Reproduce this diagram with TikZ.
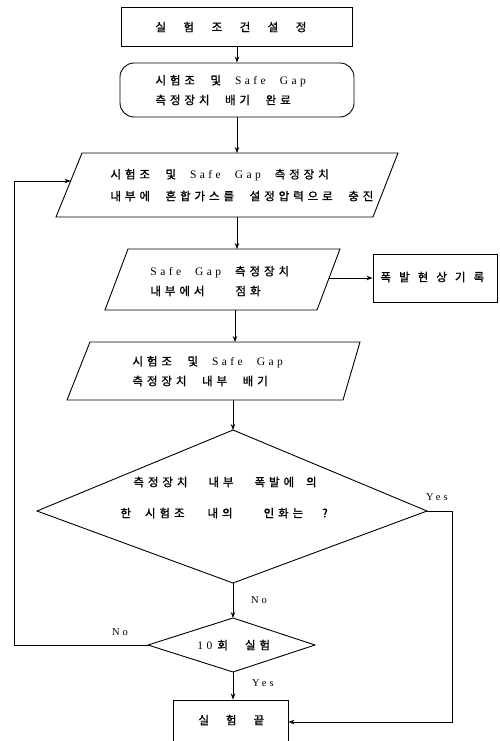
\documentclass[tikz,border=0pt]{standalone}
\usepackage{fontspec}
\setmainfont{Liberation Serif}[LetterSpace=30, WordSpace=2.2]
\newfontfamily\kr{Noto Sans CJK KR}[LetterSpace=34, WordSpace=2.4, FakeBold=1.2]
\usetikzlibrary{arrows.meta}
\newcommand{\K}[1]{{\kr #1}}
\newcommand{\gap}[1]{\hspace*{#1pt}}
\begin{document}
\begin{tikzpicture}[x=1pt,y=-1pt, line width=0.9pt,
  txt/.style={font=\fontsize{11.5}{20}\selectfont, inner sep=0pt, anchor=west},
  arr/.style={-{Stealth[length=6pt,width=4.5pt]}},
  lab/.style={font=\fontsize{10.5}{12}\selectfont, inner sep=0pt}]
\useasboundingbox (0,0) rectangle (500,741);
\clip (0,0) rectangle (500,741);

% box 1
\node[draw, minimum width=231pt, minimum height=39pt] (b1) at (237,26.5) {};
\node[txt] (t1) at (155,27) {\K{실\gap{17.5}험\gap{17.5}조\gap{17.5}건\gap{17.5}설\gap{17.5}정}};
% box 2
\node[draw, rounded corners=14pt, minimum width=234pt, minimum height=54pt] (b2) at (237,90) {};
\node[txt] (t2a) at (155,81) {\K{시험조 및} Safe Gap};
\node[txt] (t2b) at (155,100) {\K{측정장치 배기 완료}};

% box 3 (parallelogram)
\coordinate (p3a) at (56,217);
\coordinate (p3b) at (82,153);
\coordinate (p3c) at (398,153);
\coordinate (p3d) at (373,217);
\draw (p3a) -- (p3b) -- (p3c) -- (p3d) -- cycle;
\coordinate (p3top) at (237,153);
\coordinate (p3bot) at (237,217);
\coordinate (p3left) at (70.6,181);
\node[txt] (t3a) at (110,175) {\K{시험조 및} Safe Gap \K{측정장치}};
\node[txt] (t3b) at (110,196) {\K{내부에 혼합가스를 설정압력으로 충진}};

% box 4
\coordinate (p4a) at (105,310);
\coordinate (p4b) at (128,249);
\coordinate (p4c) at (340,249);
\coordinate (p4d) at (317,310);
\draw (p4a) -- (p4b) -- (p4c) -- (p4d) -- cycle;
\coordinate (p4top) at (237,249);
\coordinate (p4bot) at (235,310);
\coordinate (p4right) at (329,278);
\node[txt] (t4a) at (150,272) {Safe Gap \K{측정장치}};
\node[txt] (t4b) at (150,291) {\K{내부에서\gap{31}점화}};

% record box
\node[draw, minimum width=124pt, minimum height=48pt] (rec) at (435,278) {};
\node[txt] (trec) at (380,277) {\kr\addfontfeature{LetterSpace=70}폭발현상기록};

% box 5
\coordinate (p5a) at (67,400);
\coordinate (p5b) at (90,342);
\coordinate (p5c) at (360,342);
\coordinate (p5d) at (343,400);
\draw (p5a) -- (p5b) -- (p5c) -- (p5d) -- cycle;
\coordinate (p5top) at (235,342);
\coordinate (p5bot) at (233,400);
\node[txt] (t5a) at (132,362) {\K{시험조 및} Safe Gap};
\node[txt] (t5b) at (132,381) {\K{측정장치 내부 배기}};

% big decision
\coordinate (dT) at (233,430);
\coordinate (dR) at (427,511);
\coordinate (dB) at (233,583);
\coordinate (dL) at (37,511);
\draw (dT) -- (dR) -- (dB) -- (dL) -- cycle;
\node[txt] (tqa) at (133,482) {\K{측정장치\gap{21}내부\gap{21}폭발에\gap{12}의}};
\node[txt] (tqb) at (120,513) {\K{한\gap{14}시험조\gap{23}내의\gap{31}인화는\gap{19}?}};

% small decision
\coordinate (sT) at (233,618);
\coordinate (sR) at (315,645);
\coordinate (sB) at (233,672);
\coordinate (sL) at (148,645);
\draw (sT) -- (sR) -- (sB) -- (sL) -- cycle;
\node[txt] (ts) at (197,645) {10\gap{5}\K{회\gap{17}실험}};

% end box
\node[draw, minimum width=115pt, minimum height=44pt] (end) at (230.5,722) {};
\node[txt] (tend) at (198,720) {\K{실\gap{17}험\gap{17}끝}};

% connectors
\draw[arr] (b1) -- (b2);
\draw[arr] (b2) -- (p3top);
\draw[arr] (p3bot) -- (p4top);
\draw[arr] (p4right) -- (rec.west);
\draw[arr] (p4bot) -- (p5top);
\draw[arr] (p5bot) -- (dT);
\draw[arr] (dB) -- (sT);
\draw[arr] (sB) -- (end.north -| sB);
\draw[arr] (dR) -- ++(25,0) |- (end.east);
\draw[arr] (sL) -- ++(-134,0) |- (p3left);

% labels
\node[lab] (yes1) at (437,497) {Yes};
\node[lab] (no1) at (259,600) {No};
\node[lab] (no2) at (120,632) {No};
\node[lab] (yes2) at (263,683) {Yes};
\end{tikzpicture}
\end{document}
